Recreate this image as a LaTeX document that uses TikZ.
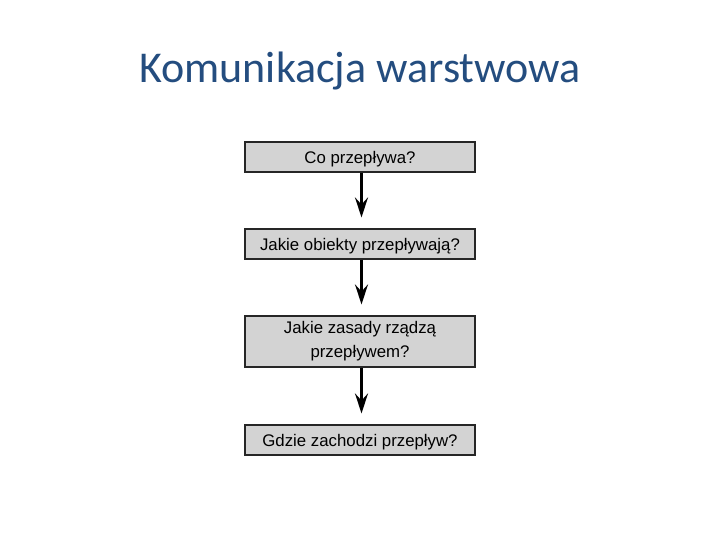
\documentclass[tikz,border=0pt]{standalone}
\usepackage{fontspec}
\setmainfont{Liberation Sans}
\newfontfamily\titlefont{Carlito}
\usetikzlibrary{arrows.meta}
\definecolor{titleblue}{HTML}{244D7F}
\definecolor{boxgray}{HTML}{D3D3D3}
\tikzset{
  qbox/.style={draw=black!85, line width=1.1pt, fill=boxgray, minimum width=230pt, inner sep=0pt, align=center, font=\fontsize{16.8}{24}\selectfont, text=black},
  onerow/.style={qbox, minimum height=30pt, text height=13.5pt, text depth=1pt},
  flow/.style={line width=2.6pt, draw=black, -{Stealth[length=20pt,width=13pt,inset=7pt]}}
}
\begin{document}
\begin{tikzpicture}[x=1pt,y=1pt]
\useasboundingbox (0,0) rectangle (720,-540);
\node[anchor=base, text=titleblue, font=\titlefont\fontsize{44}{50}\selectfont] (title) at (360,-83) {Komunikacja warstwowa};
\node[onerow] (b1) at (360,-157) {Co przepływa?};
\node[onerow] (b2) at (360,-244) {Jakie obiekty przepływają?};
\node[qbox, minimum height=51pt] (b3) at (360,-341.5) {Jakie zasady rządzą\\przepływem?};
\node[onerow] (b4) at (360,-440) {Gdzie zachodzi przepływ?};
\draw[flow] ([xshift=1.5pt]b1.south) -- ([xshift=1.5pt,yshift=11pt]b2.north);
\draw[flow] ([xshift=1.5pt]b2.south) -- ([xshift=1.5pt,yshift=11pt]b3.north);
\draw[flow] ([xshift=1.5pt]b3.south) -- ([xshift=1.5pt,yshift=11pt]b4.north);
\end{tikzpicture}
\end{document}
